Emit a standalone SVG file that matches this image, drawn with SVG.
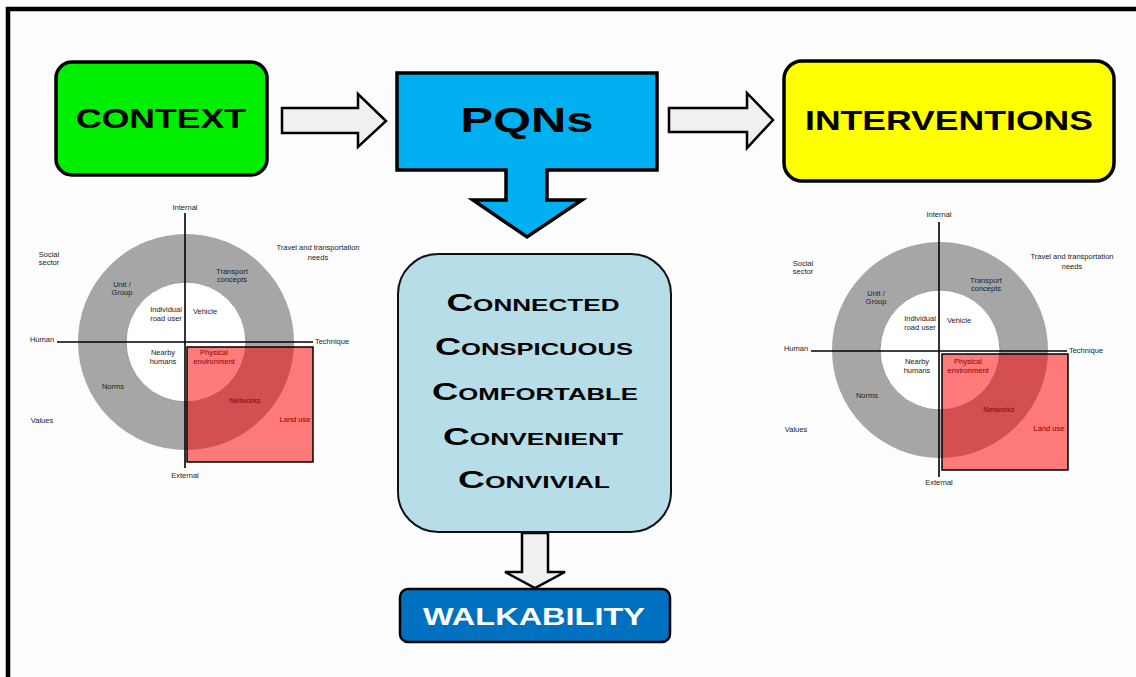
<svg xmlns="http://www.w3.org/2000/svg" width="1136" height="677" viewBox="0 0 1136 677">
<style>
.title{font-family:"Liberation Sans",Arial,sans-serif;font-weight:bold;fill:#000;text-anchor:middle}
.q{font-family:"Liberation Sans",Arial,sans-serif;font-weight:bold;font-size:24px;font-variant:small-caps;fill:#000;text-anchor:middle}
.arrow{fill:#f0f0f0;stroke:#000;stroke-width:2.5;stroke-linejoin:miter}
.lbl{font-family:"Liberation Sans",Arial,sans-serif;font-size:7.5px;fill:#222;text-anchor:middle}
.lblr{font-family:"Liberation Sans",Arial,sans-serif;font-size:7.5px;fill:#8b0000;text-anchor:middle}
.axis{stroke:#000;stroke-width:1.6}
</style>
<rect x="0" y="0" width="1136" height="677" fill="#fdfdfd"/>
<g id="frame">
<line x1="6" y1="9" x2="1136" y2="9" stroke="#000" stroke-width="4.5"/>
<line x1="8" y1="7" x2="8" y2="677" stroke="#000" stroke-width="4.5"/>
</g>
<g id="connectors">
<path class="arrow" d="M282,108 H358 V94 L386,121 L358,147 V133 H282 Z"/>
<path class="arrow" d="M669,108 H747 V93 L773,120 L747,148 V132 H669 Z"/>
<path class="arrow" stroke-width="2" d="M522,533 H548 V572 H565 L535,588 L505,572 H522 Z"/>
</g>
<g id="context">
<rect x="56" y="62" width="211" height="113" rx="16" fill="#00ee00" stroke="#000" stroke-width="3.5"/>
<text class="title" x="161" y="128" font-size="28" textLength="170" lengthAdjust="spacingAndGlyphs">CONTEXT</text>
</g>
<g id="pqns">
<path d="M397,73 H657 V170 H547 V200 H582 L527,237 L473,200 H506 V170 H397 Z" fill="#00b0f0" stroke="#000" stroke-width="3.5" stroke-linejoin="miter"/>
<text class="title" x="527" y="132" font-size="35" textLength="133" lengthAdjust="spacingAndGlyphs">PQNs</text>
</g>
<g id="interventions">
<rect x="784" y="61" width="330" height="120" rx="18" fill="#ffff00" stroke="#000" stroke-width="3.5"/>
<text class="title" x="949" y="130" font-size="28" textLength="288" lengthAdjust="spacingAndGlyphs">INTERVENTIONS</text>
</g>
<g id="qualities">
<rect x="398" y="254" width="273" height="278" rx="40" fill="#b7dde8" stroke="#111" stroke-width="2"/>
<text class="q" x="533" y="311" textLength="173" lengthAdjust="spacingAndGlyphs">Connected</text>
<text class="q" x="534" y="355" textLength="198" lengthAdjust="spacingAndGlyphs">Conspicuous</text>
<text class="q" x="535" y="400" textLength="206" lengthAdjust="spacingAndGlyphs">Comfortable</text>
<text class="q" x="533" y="445" textLength="180" lengthAdjust="spacingAndGlyphs">Convenient</text>
<text class="q" x="534" y="488" textLength="152" lengthAdjust="spacingAndGlyphs">Convivial</text>
</g>
<g id="walkability">
<rect x="400" y="589" width="270" height="53" rx="8" fill="#0070c0" stroke="#000" stroke-width="2.5"/>
<text class="title" x="534" y="625" font-size="24" style="fill:#fff" textLength="222" lengthAdjust="spacingAndGlyphs">WALKABILITY</text>
</g>
<g id="context-diagram" transform="translate(185,342)">
<circle cx="1" cy="0" r="84" fill="none" stroke="#a6a6a6" stroke-width="48"/>
<circle cx="1" cy="0" r="60" fill="#fff" stroke="#777" stroke-width="0.8"/>
<line class="axis" x1="0" y1="-129" x2="0" y2="126"/>
<line class="axis" x1="-128" y1="0" x2="128" y2="0"/>
<rect x="2" y="5" width="126" height="115" fill="#ff0000" fill-opacity="0.52" stroke="#000" stroke-width="1.5"/>
<text class="lbl" x="0" y="-132">Internal</text>
<text class="lbl" x="0" y="136">External</text>
<text class="lbl" x="-143" y="0">Human</text>
<text class="lbl" x="147" y="2">Technique</text>
<text class="lbl" x="-136" y="-85">Social</text>
<text class="lbl" x="-136" y="-77">sector</text>
<text class="lbl" x="133" y="-92">Travel and transportation</text>
<text class="lbl" x="133" y="-82">needs</text>
<text class="lbl" x="-63" y="-55">Unit /</text>
<text class="lbl" x="-63" y="-47">Group</text>
<text class="lbl" x="47" y="-68">Transport</text>
<text class="lbl" x="47" y="-60">concepts</text>
<text class="lbl" x="-19" y="-30">Individual</text>
<text class="lbl" x="-19" y="-21">road user</text>
<text class="lbl" x="20" y="-28">Vehicle</text>
<text class="lbl" x="-22" y="13">Nearby</text>
<text class="lbl" x="-22" y="22">humans</text>
<text class="lblr" x="29" y="13">Physical</text>
<text class="lblr" x="29" y="22">environment</text>
<text class="lbl" x="-72" y="47">Norms</text>
<text class="lblr" x="60" y="61">Networks</text>
<text class="lblr" x="110" y="80">Land use</text>
<text class="lbl" x="-143" y="81">Values</text>
</g>
<g id="interventions-diagram" transform="translate(939,351)">
<circle cx="1" cy="-1" r="84" fill="none" stroke="#a6a6a6" stroke-width="48"/>
<circle cx="1" cy="-1" r="60" fill="#fff" stroke="#777" stroke-width="0.8"/>
<line class="axis" x1="0" y1="-129" x2="0" y2="126"/>
<line class="axis" x1="-128" y1="0" x2="128" y2="0"/>
<rect x="3" y="3" width="126" height="116" fill="#ff0000" fill-opacity="0.52" stroke="#000" stroke-width="1.5"/>
<text class="lbl" x="0" y="-134">Internal</text>
<text class="lbl" x="0" y="134">External</text>
<text class="lbl" x="-143" y="0">Human</text>
<text class="lbl" x="147" y="2">Technique</text>
<text class="lbl" x="-136" y="-85">Social</text>
<text class="lbl" x="-136" y="-77">sector</text>
<text class="lbl" x="133" y="-92">Travel and transportation</text>
<text class="lbl" x="133" y="-82">needs</text>
<text class="lbl" x="-63" y="-55">Unit /</text>
<text class="lbl" x="-63" y="-47">Group</text>
<text class="lbl" x="47" y="-68">Transport</text>
<text class="lbl" x="47" y="-60">concepts</text>
<text class="lbl" x="-19" y="-30">Individual</text>
<text class="lbl" x="-19" y="-21">road user</text>
<text class="lbl" x="20" y="-28">Vehicle</text>
<text class="lbl" x="-22" y="13">Nearby</text>
<text class="lbl" x="-22" y="22">humans</text>
<text class="lblr" x="29" y="13">Physical</text>
<text class="lblr" x="29" y="22">environment</text>
<text class="lbl" x="-72" y="47">Norms</text>
<text class="lblr" x="60" y="61">Networks</text>
<text class="lblr" x="110" y="80">Land use</text>
<text class="lbl" x="-143" y="81">Values</text>
</g>
</svg>
